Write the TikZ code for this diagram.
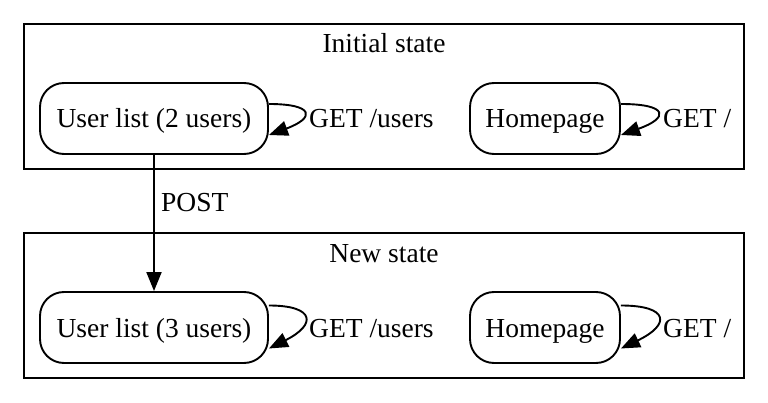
\documentclass[tikz,border=0pt]{standalone}
\usepackage{fontspec}
\setmainfont{Liberation Serif}
\usetikzlibrary{arrows.meta,calc}
\begin{document}
\begin{tikzpicture}[x=1pt,y=-1pt,
  every node/.style={font=\fontsize{27.5}{33}\selectfont, inner sep=0pt},
  statebox/.style={draw, line width=1.9pt, rounded corners=24pt, minimum height=71pt, text height=19pt, text depth=0pt},
  cluster/.style={draw, line width=1.6pt},
  edge/.style={line width=1.9pt, -{Triangle[length=19pt,width=15pt]}},
  lbl/.style={anchor=base west}]
\useasboundingbox (0,0) rectangle (768,403);
% clusters
\node[cluster, minimum width=720pt, minimum height=145pt] (c1) at (384,96.5) {};
\node[cluster, minimum width=720pt, minimum height=145pt] (c2) at (384,305.5) {};
\node[anchor=base] (t1) at (384,53) {Initial state};
\node[anchor=base] (t2) at (384,262) {New state};
% states
\node[statebox, minimum width=228pt] (u1) at (154,118.5) {User list (2 users)};
\node[statebox, minimum width=150pt] (h1) at (545,118.5) {Homepage};
\node[statebox, minimum width=228pt] (u2) at (154,327.5) {User list (3 users)};
\node[statebox, minimum width=150pt] (h2) at (545,327.5) {Homepage};
% loops
\draw[edge] ($(u1.east)+(0,-14.5)$) .. controls +(46,0) and +(46,-17) .. ($(u1.east)+(0,16.5)$);
\draw[edge] ($(h1.east)+(0,-14.5)$) .. controls +(48,0) and +(48,-17) .. ($(h1.east)+(0,16.5)$);
\draw[edge] ($(u2.east)+(0,-22)$) .. controls +(46,0) and +(48,-24) .. ($(u2.east)+(0,21)$);
\draw[edge] ($(h2.east)+(0,-22)$) .. controls +(48,0) and +(50,-24) .. ($(h2.east)+(0,21)$);
\node[lbl] (g1) at (309,128) {GET /users};
\node[lbl] (g2) at (663,128) {GET /};
\node[lbl] (g3) at (309,337) {GET /users};
\node[lbl] (g4) at (663,337) {GET /};
% POST
\draw[edge] (u1.south) -- (u2.north);
\node[lbl] (p) at (161,212) {POST};
\end{tikzpicture}
\end{document}
